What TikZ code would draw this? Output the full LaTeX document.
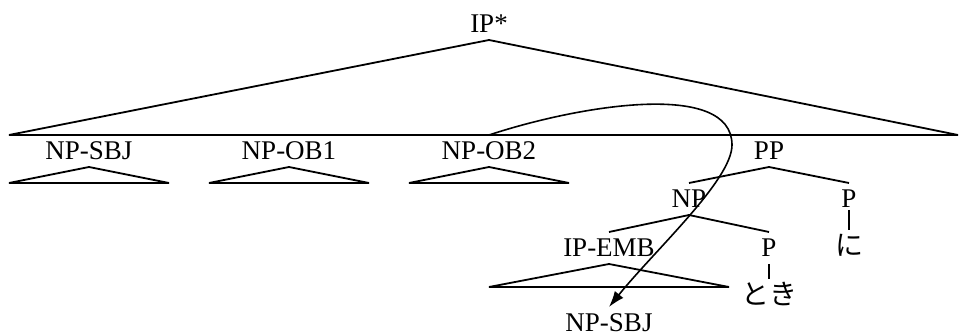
\documentclass[tikz,border=0pt]{standalone}
\usepackage{fontspec}
\setmainfont{Liberation Serif}
\newfontfamily\jpfont{Noto Sans CJK JP}
\usetikzlibrary{arrows.meta, positioning}

\tikzstyle{cat}=[inner sep=0pt, outer sep=3.5pt, text height=9pt, text depth=0pt, anchor=base]
\tikzstyle{word}=[inner sep=0pt, outer sep=1.5pt, text height=11.5pt, text depth=0pt, anchor=north,
  font=\jpfont\fontsize{14}{17}\selectfont]
\tikzstyle{branch}=[line width=0.9pt, line join=miter]
\tikzstyle{stem}=[line width=0.6pt]
\tikzstyle{arrow}=[->, line width=0.8pt, >={Latex[length=8pt,width=5.5pt]}]

\begin{document}
\begin{tikzpicture}[x=0.5pt, y=-0.5pt, font=\fontsize{13.5}{16}\selectfont]
  \useasboundingbox (0,0) rectangle (959,336);
  % root and its flat daughters
  \node(ipstar) [cat] at (489,33) {IP*};
  \coordinate (ipL) at (9,135);
  \coordinate (ipR) at (958,135);
  \draw [branch] (ipL) -- (ipstar.south) -- (ipR) -- cycle;
  \node(npsbj) [cat] at (89,160) {NP-SBJ};
  \draw [branch] (npsbj.south) -- ++(-80,16) -- ++(160,0) -- cycle;
  \node(npobA) [cat] at (289,160) {NP-OB1};
  \draw [branch] (npobA.south) -- ++(-80,16) -- ++(160,0) -- cycle;
  \node(npobB) [cat] at (489,160) {NP-OB2};
  \draw [branch] (npobB.south) -- ++(-80,16) -- ++(160,0) -- cycle;
  % postpositional phrase
  \node(pp) [cat] at (769,160) {PP};
  \node(np) [cat] at (689,208) {NP};
  \node(pni) [cat] at (849,208) {P};
  \draw [branch] (np.north) -- (pp.south) -- (pni.north);
  \node(ni) [word] at (849,230) {に};
  \draw [stem, shorten <=-2.5pt] (pni.south) -- (ni.north);
  \node(ipemb) [cat] at (609,257) {IP-EMB};
  \node(ptoki) [cat] at (769,257) {P};
  \draw [branch] (ipemb.north) -- (np.south) -- (ptoki.north);
  \draw [branch] (ipemb.south) -- ++(-120,23) -- ++(240,0) -- cycle;
  \node(toki) [word] at (769,279) {とき};
  \draw [stem] (ptoki.south) -- (toki.north);
  % moved subject
  \node(trace) [cat] at (609,332) {NP-SBJ};
  \draw [arrow] (npobB.north) .. controls (580,105) and (732,80) .. (732,145)
    .. controls (732,180) and (655,250) .. (trace.north);
\end{tikzpicture}
\end{document}
